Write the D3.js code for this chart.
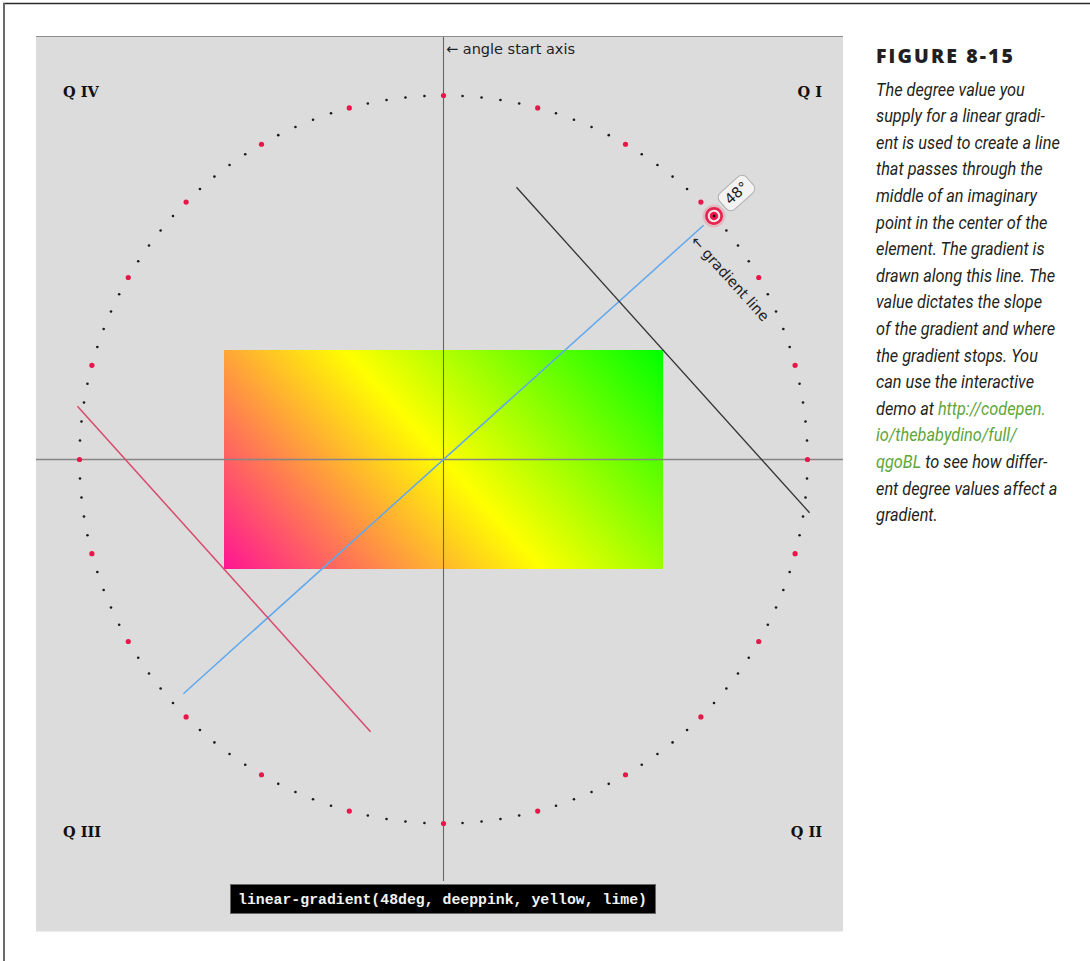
<!DOCTYPE html>
<html><head><meta charset="utf-8">
<script src="https://cdn.jsdelivr.net/npm/d3@7"></script>
<style>html,body{margin:0;padding:0;background:#fff;} svg{display:block;}</style>
</head><body>
<svg id="c" width="1090" height="961"></svg>
<script>
// ---- data ----
const gradientAngle = 48;                       // deg
const colorStops = ["deeppink", "yellow", "lime"];
const stopOffsets = [0, 0.5, 1];
const elementSize = [439, 219];                 // width, height (px units)
const circleRadius = 364;                       // angle dial radius
const gradientLineHalf = 350;                   // drawn blue line half length
const stopLineLength = 438;                     // length of the 0%/100% lines
const tickStepDeg = 3;
const majorEveryDeg = 15;
const quadrantLabels = ["Q I", "Q II", "Q III", "Q IV"];
const axisLabel = "\u2190 angle start axis";
const lineLabel = "\u2190 gradient line";
const angleLabel = "48\u00B0";
const cssText = "linear-gradient(48deg, deeppink, yellow, lime)";
const captionTitle = "FIGURE 8-15";
const captionLines = [
  [["The degree value you", 0]],
  [["supply for a linear gradi-", 0]],
  [["ent is used to create a line", 0]],
  [["that passes through the", 0]],
  [["middle of an imaginary", 0]],
  [["point in the center of the", 0]],
  [["element. The gradient is", 0]],
  [["drawn along this line. The", 0]],
  [["value dictates the slope", 0]],
  [["of the gradient and where", 0]],
  [["the gradient stops. You", 0]],
  [["can use the interactive", 0]],
  [["demo at ", 0], ["http://codepen.", 1]],
  [["io/thebabydino/full/", 1]],
  [["qgoBL", 1], [" to see how differ-", 0]],
  [["ent degree values affect a", 0]],
  [["gradient.", 0]]
];

// ---- layout ----
const svg = d3.select("#c");
const cx = 443.5, cy = 459.5, R = 364;
const x = d3.scaleLinear().domain([-circleRadius, circleRadius]).range([cx - R, cx + R]);
const y = d3.scaleLinear().domain([-circleRadius, circleRadius]).range([cy + R, cy - R]);
const rad = d => d * Math.PI / 180;

// page border
svg.append("line").attr("x1", 3).attr("x2", 1090).attr("y1", 3.5).attr("y2", 3.5)
  .attr("stroke", "#2a2a2a").attr("stroke-width", 1.6);
svg.append("line").attr("x1", 4).attr("x2", 4).attr("y1", 3).attr("y2", 961)
  .attr("stroke", "#6a6a6a").attr("stroke-width", 2);

// panel
svg.append("rect").attr("x", 36).attr("y", 36.5).attr("width", 807).attr("height", 895)
  .attr("fill", "#dcdcdc");
svg.append("line").attr("x1", 36).attr("x2", 843).attr("y1", 36.5).attr("y2", 36.5)
  .attr("stroke", "#8e8e8e").attr("stroke-width", 1);

// gradient definition (CSS semantics)
const a = rad(gradientAngle);
const [w, h] = elementSize;
const L = (w * Math.abs(Math.sin(a)) + h * Math.abs(Math.cos(a))) / 2;
const dir = [Math.sin(a), Math.cos(a)]; // math coords, y up
const defs = svg.append("defs");
const lg = defs.append("linearGradient").attr("id", "lg").attr("gradientUnits", "userSpaceOnUse")
  .attr("x1", x(-dir[0] * L)).attr("y1", y(-dir[1] * L))
  .attr("x2", x(dir[0] * L)).attr("y2", y(dir[1] * L));
lg.selectAll("stop").data(colorStops).join("stop")
  .attr("offset", (d, i) => stopOffsets[i]).attr("stop-color", d => d);

// element
svg.append("rect")
  .attr("x", x(-w / 2)).attr("y", y(h / 2))
  .attr("width", x(w / 2) - x(-w / 2)).attr("height", y(-h / 2) - y(h / 2))
  .attr("fill", "url(#lg)");

// axes
svg.append("line").attr("x1", 36).attr("x2", 843).attr("y1", cy).attr("y2", cy)
  .attr("stroke", "#858585").attr("stroke-width", 1.6);
svg.append("line").attr("x1", cx).attr("x2", cx).attr("y1", 37).attr("y2", 881)
  .attr("stroke", "#666").attr("stroke-width", 1.1);

// dial dots
const ticks = d3.range(0, 360, tickStepDeg);
svg.append("g").selectAll("circle").data(ticks).join("circle")
  .attr("cx", d => x(circleRadius * Math.sin(rad(d))))
  .attr("cy", d => y(circleRadius * Math.cos(rad(d))))
  .attr("r", d => d % majorEveryDeg === 0 ? 2.6 : 1.3)
  .attr("fill", d => d % majorEveryDeg === 0 ? "#e8174a" : "#1a1a1a");

// rotated frame: +x along gradient direction
const fr = svg.append("g").attr("transform", `translate(${cx},${cy}) rotate(${gradientAngle - 90})`);
const k = x(1) - x(0);
fr.append("line").attr("x1", -gradientLineHalf * k).attr("x2", gradientLineHalf * k)
  .attr("y1", 0).attr("y2", 0).attr("stroke", "#5fa8ee").attr("stroke-width", 1.5);

// stop lines through the corners
const perp = (w / 2) * Math.cos(a) - (h / 2) * Math.sin(a);
fr.append("line").attr("x1", L * k).attr("x2", L * k)
  .attr("y1", (perp - stopLineLength / 2) * k).attr("y2", (perp + stopLineLength / 2) * k)
  .attr("stroke", "#333").attr("stroke-width", 1.3);
fr.append("line").attr("x1", -L * k).attr("x2", -L * k)
  .attr("y1", (-perp - stopLineLength / 2) * k).attr("y2", (-perp + stopLineLength / 2) * k)
  .attr("stroke", "#d84a6c").attr("stroke-width", 1.5);

// handle
const hx = circleRadius * k;
fr.append("circle").attr("cx", hx).attr("cy", 0).attr("r", 11.5).attr("fill", "rgba(240,80,110,0.22)");
fr.append("circle").attr("cx", hx).attr("cy", 0).attr("r", 9).attr("fill", "#e8234f");
fr.append("circle").attr("cx", hx).attr("cy", 0).attr("r", 6.3).attr("fill", "#fbe6ea");
fr.append("circle").attr("cx", hx).attr("cy", 0).attr("r", 4.2).attr("fill", "#e8174a");
fr.append("circle").attr("cx", hx).attr("cy", 0).attr("r", 1.4).attr("fill", "#111");

// angle label box
const lb = fr.append("g").attr("transform", `translate(${396},${-2})`);
lb.append("rect").attr("x", -18).attr("y", -11).attr("width", 36).attr("height", 22).attr("rx", 6)
  .attr("fill", "#f3f3f3").attr("stroke", "#b0b0b0").attr("stroke-width", 1);
lb.append("text").attr("x", 0).attr("y", 5).attr("text-anchor", "middle")
  .attr("font-family", "DejaVu Sans").attr("font-size", 14.5).attr("fill", "#222").text(angleLabel);

// gradient line label
fr.append("text").attr("transform", "translate(329,3) rotate(90)")
  .attr("font-family", "DejaVu Sans").attr("font-size", 14.5).attr("fill", "#222").text(lineLabel);

// axis label
svg.append("text").attr("x", 446).attr("y", 53.5)
  .attr("font-family", "DejaVu Sans").attr("font-size", 14.5).attr("fill", "#222").text(axisLabel);

// quadrant labels
const qpos = [[822, 97, "end"], [822, 836.5, "end"], [63, 836.5, "start"], [63, 97, "start"]];
svg.append("g").selectAll("text").data(quadrantLabels).join("text")
  .attr("x", (d, i) => qpos[i][0]).attr("y", (d, i) => qpos[i][1])
  .attr("text-anchor", (d, i) => qpos[i][2])
  .attr("font-family", "DejaVu Serif").attr("font-weight", "bold").attr("font-size", 14.5)
  .attr("fill", "#111").text(d => d);

// css code box
svg.append("rect").attr("x", 230.5).attr("y", 884.5).attr("width", 425).attr("height", 29)
  .attr("fill", "#000").attr("stroke", "#666").attr("stroke-width", 1);
svg.append("text").attr("x", 238).attr("y", 903.5)
  .attr("font-family", "Liberation Mono").attr("font-weight", "bold").attr("font-size", 14.8)
  .attr("fill", "#f2f2f2").attr("textLength", 409).attr("lengthAdjust", "spacingAndGlyphs").text(cssText);

// caption
svg.append("text").attr("x", 876).attr("y", 63)
  .attr("font-family", "Open Sans").attr("font-weight", 800).attr("font-size", 19.5)
  .attr("fill", "#231f20").attr("textLength", 137).attr("lengthAdjust", "spacing").text(captionTitle);

const cap = svg.append("g");
const lineNodes = captionLines.map((segs, i) => {
  const t = cap.append("text")
    .attr("font-family", "Roboto").attr("font-style", "italic").attr("font-size", 18)
    .attr("fill", "#231f20");
  segs.forEach(([s, link]) => t.append("tspan").attr("fill", link ? "#5da63a" : "#231f20").text(s));
  return t;
});
const refW = lineNodes[2].node().getComputedTextLength();
const sx = 184 / refW;
lineNodes.forEach((t, i) => {
  t.attr("transform", `translate(876,${95.5 + i * 26.6}) scale(${sx},1)`);
});
</script>
</body></html>
